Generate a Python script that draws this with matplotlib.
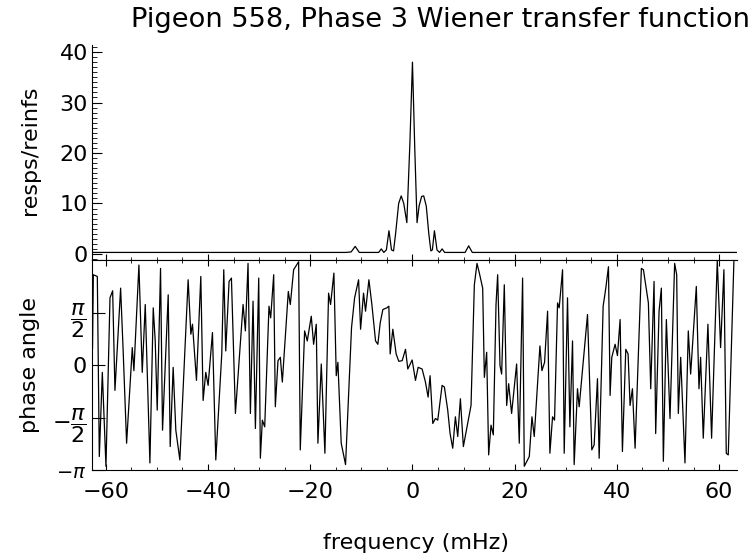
"""Pigeon 558, phase 3 Wiener transfer function: magnitude and phase vs frequency."""

import numpy as np
import matplotlib

matplotlib.use("Agg")
import matplotlib.pyplot as plt  # noqa: E402
from matplotlib.ticker import MultipleLocator  # noqa: E402

# --------------------------------------------------------------------------- #
# Data (frequency in mHz)
# --------------------------------------------------------------------------- #
mag_freq = [-62.7, -13.0, -12.0, -11.2, -10.4, -6.6, -6.1, -5.6, -5.1, -4.6, -4.1,
            -3.7, -3.3, -2.7, -2.2, -1.7, -1.1, -0.5, 0.0, 0.45, 0.9, 1.3, 1.8,
            2.2, 2.7, 3.2, 3.6, 3.9, 4.3, 4.8, 5.3, 5.8, 6.3, 10.3, 11.0, 11.7, 63.5]
mag_vals = [0.3, 0.3, 0.4, 1.5, 0.3, 0.3, 1.0, 0.3, 0.8, 4.6, 0.8,
            0.6, 4.0, 10.0, 11.5, 10.0, 6.2, 22.0, 38.0, 21.0, 6.2, 9.5, 11.4,
            11.5, 9.5, 4.0, 0.6, 0.8, 4.6, 0.8, 0.3, 1.0, 0.3, 0.3, 1.6, 0.3, 0.3]

phase_freq = [
    -62.6, -62.44, -61.66, -61.27, -60.68, -59.97, -59.18, -58.66, -58.21, -57.10,
    -56.58, -55.93, -54.82, -54.50, -53.52, -52.87, -52.28, -51.37, -50.72, -50.33,
    -49.94, -49.29, -48.90, -47.79, -47.40, -46.82, -46.30, -45.51, -43.89, -43.36,
    -43.04, -42.26, -41.41, -40.96, -40.44, -39.98, -39.13, -38.48, -37.31,
    -36.92, -36.53, -35.88, -35.42, -34.64, -33.14, -32.69, -32.17, -31.71, -31.19,
    -30.73, -30.08, -29.76, -29.37, -28.91, -28.07, -27.74, -27.15, -26.83, -26.31,
    -25.85, -25.46, -24.29, -23.90, -23.25, -22.27, -21.95, -21.10, -20.58, -19.80,
    -19.34, -18.82, -18.50, -17.84, -17.13, -16.41, -16.02, -15.37, -14.91, -14.59,
    -13.94, -13.09, -11.92,
    -11.32, -10.54, -10.15, -9.57, -9.18, -8.52, -7.94, -7.22, -6.77, -6.31,
    -5.79, -5.01, -4.62, -4.36, -3.84, -3.19, -2.67, -2.01, -1.36, -0.91,
    -0.06, 0.59, 1.11, 1.89, 2.54, 3.06, 3.45, 3.98, 4.50, 4.95,
    5.80, 6.25, 6.90, 7.36, 7.88, 8.40, 8.86, 9.38, 9.96, 10.81,
    11.46, 12.11, 12.63,
    13.09, 13.74, 14.07, 14.52, 14.91, 15.37, 15.82, 16.35, 16.67, 17.13,
    17.45, 17.97, 18.43, 18.82, 19.40, 20.38, 20.90, 21.55, 21.88, 22.86,
    23.38, 23.83, 24.94, 25.33, 25.85, 26.44, 26.89, 27.41, 27.80, 28.39,
    28.71, 29.37, 29.69, 30.34, 30.80, 31.32, 31.64, 32.29, 32.62, 34.25,
    35.09, 35.55, 36.20, 36.53, 37.31, 37.83, 38.35, 38.67,
    39.00, 39.65, 40.11, 40.63, 41.08, 41.74, 42.19, 42.58, 43.04, 43.56,
    44.79, 45.19, 46.16, 46.62, 47.27, 47.59, 48.25, 48.70, 49.09, 49.68,
    50.39, 51.30, 51.70, 52.02, 52.48, 53.32, 53.97, 54.43, 55.54, 56.06,
    56.38, 56.90, 57.81, 58.53, 59.64, 60.29, 60.94, 61.40, 61.79, 62.89,
]
phase_vals = [
    0.5, 2.70, 2.65, -2.74, -0.22, -3.03, 2.01, 2.22, -0.76, 2.30,
    0.33, -2.34, 0.52, -0.17, 2.99, -0.22, 1.81, -2.93, 1.71, 0.72,
    -1.35, 2.89, -1.95, 2.10, -2.44, -0.07, -1.95, -2.84, 2.55, 0.92,
    1.22, -0.46, 2.65, -1.06, -0.22, -0.61, 0.97, -2.84, 0.33,
    2.85, 0.42, 2.50, 2.60, -1.45, 1.81, 1.02, 3.04, -1.45, 1.91,
    -1.90, 2.60, -2.79, -1.65, -1.85, 1.76, 1.41, 2.70, -1.25, 0.13,
    0.23, -0.51, 2.20, 1.81, 2.85, 3.09, -2.54, 1.02, 0.72, 1.46,
    0.62, 1.22, -2.34, 0.03, -2.64, 2.15, 1.81, 2.75, -0.32, 0.08,
    -2.34, -2.98, 1.12,
    2.01, 2.55, 1.07, 2.15, 1.61, 2.55, 1.81, 0.72, 0.62, 1.26,
    1.66, 1.71, 1.76, 0.33, 1.07, 0.33, 0.11, 0.13, 0.47, -0.12,
    0.15, -0.46, -0.07, -0.12, -0.51, -0.96, -0.32, -1.75, -1.60, -1.65,
    -0.61, -0.66, -1.35, -2.05, -2.49, -1.55, -2.14, -1.01, -2.44, -1.75,
    -1.21, 2.40, 3.04,
    2.75, 2.30, -0.37, 0.38, -2.69, -1.80, -2.09, 1.81, 2.70, -0.02,
    -0.27, 2.40, -1.21, -0.56, -1.45, 0.03, -2.34, 2.60, -3.03, -2.74,
    -1.55, -2.14, 0.57, -0.17, 0.08, 1.61, -2.64, -1.55, -1.65, 1.86,
    1.71, 2.85, -2.64, 2.01, -1.85, 0.72, -2.98, -0.71, -1.25, 1.51,
    -2.54, -2.39, -0.41, -2.79, 1.76, 2.30, 2.94, -0.91,
    0.23, 0.62, 0.28, 1.36, -2.59, 0.47, 0.33, -1.21, -0.71, -2.49,
    2.89, 2.85, 1.86, -0.71, 2.50, -2.05, 1.61, 2.30, -2.88, 1.36,
    -1.60, 3.04, 2.70, -1.45, 0.23, -2.93, 1.02, -0.27, 2.35, -0.71,
    0.23, -2.19, 1.22, -2.19, 3.14, 0.52, 2.85, -2.64, -2.69, 3.09,
]

x_ticks = [-60, -40, -20, 0, 20, 40, 60]
mag_ticks = [0, 10, 20, 30, 40]
phase_ticks = [-np.pi, -np.pi / 2, 0, np.pi / 2]
phase_ticklabels = [r"$-\pi$", r"$-\dfrac{\pi}{2}$", r"$0$", r"$\dfrac{\pi}{2}$"]

FONT = 16


def main() -> None:
    plt.rcParams["font.family"] = ["DejaVu Sans"]
    plt.rcParams["mathtext.fontset"] = "dejavusans"
    fig = plt.figure(figsize=(7.54, 5.55), dpi=100)
    ax1 = fig.add_axes((92 / 754, 1 - 260 / 555, 645 / 754, 215 / 555))
    ax2 = fig.add_axes((92 / 754, 1 - 470 / 555, 645 / 754, 210 / 555))

    # magnitude panel
    ax1.plot(mag_freq, mag_vals, color="black", lw=0.9)
    ax1.set_xlim(-62.7, 63.5)
    ax1.set_ylim(-1.2, 41.4)
    ax1.set_yticks(mag_ticks)
    ax1.yaxis.set_minor_locator(MultipleLocator(1))
    ax1.xaxis.set_major_locator(MultipleLocator(20))
    ax1.xaxis.set_minor_locator(MultipleLocator(5))
    ax1.set_xticklabels([])
    ax1.spines[["top", "right"]].set_visible(False)
    ax1.tick_params(axis="y", which="major", direction="in", length=7, width=0.8,
                    labelsize=FONT, pad=3)
    ax1.tick_params(axis="y", which="minor", direction="in", length=3.5, width=0.6)
    ax1.tick_params(axis="x", which="major", direction="in", length=4, width=0.8)
    ax1.tick_params(axis="x", which="minor", direction="in", length=2, width=0.6)

    # phase panel
    ax2.plot(phase_freq, phase_vals, color="black", lw=0.9)
    ax2.set_xlim(-62.7, 63.5)
    ax2.set_ylim(-np.pi, np.pi)
    ax2.set_yticks(phase_ticks)
    ax2.set_yticklabels(phase_ticklabels)
    ax2.set_xticks(x_ticks)
    ax2.xaxis.set_minor_locator(MultipleLocator(5))
    ax2.spines["right"].set_visible(False)
    ax2.tick_params(axis="y", direction="in", length=9, width=0.8, labelsize=FONT, pad=4)
    ax2.tick_params(axis="x", which="major", direction="in", length=4, width=0.8,
                    labelsize=FONT, pad=9, top=True)
    ax2.tick_params(axis="x", which="minor", direction="in", length=2, width=0.6, top=True)
    ax2.get_yticklabels()[0].set_fontsize(14)

    fig.text(0.584, 0.964, "Pigeon 558, Phase 3 Wiener transfer function",
             ha="center", va="center", fontsize=19.6)
    fig.text(0.040, 0.730, "resps/reinfs", rotation=90, ha="center", va="center",
             fontsize=FONT)
    fig.text(0.040, 0.342, "phase angle", rotation=90, ha="center", va="center",
             fontsize=FONT)
    fig.text(0.552, 0.022, "frequency (mHz)", ha="center", va="center", fontsize=FONT)

    fig.savefig("out.png", dpi=100)
    plt.close(fig)


if __name__ == "__main__":
    main()
